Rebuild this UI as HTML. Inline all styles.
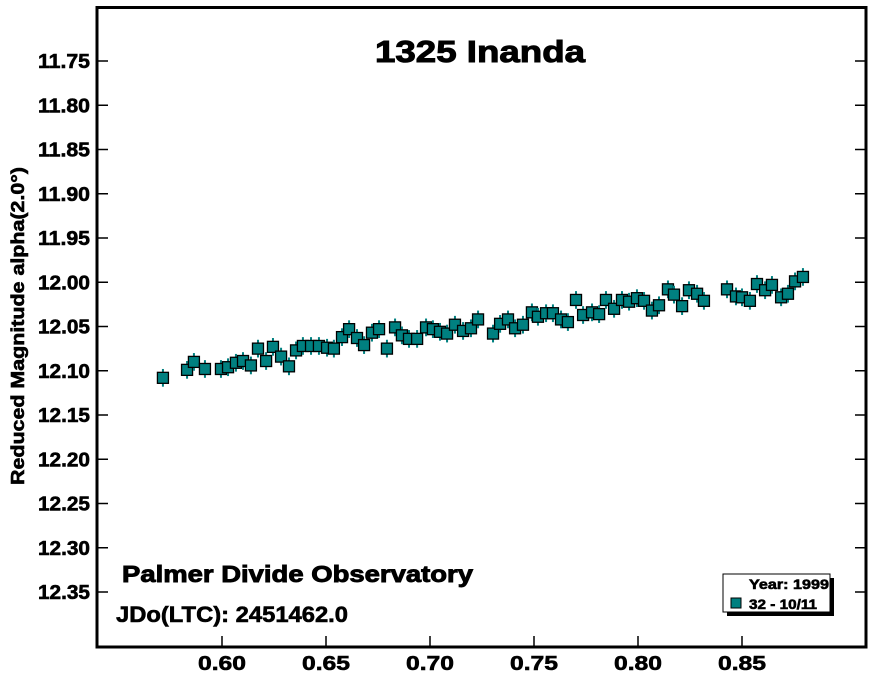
<!DOCTYPE html>
<html><head><meta charset="utf-8"><style>
body{margin:0;background:#fff}
svg text{font-family:"Liberation Sans",Arial,sans-serif;font-weight:bold;stroke:#000;stroke-width:0.6}
</style></head><body>
<svg id="chart" width="879" height="677" viewBox="0 0 879 677" xmlns="http://www.w3.org/2000/svg">
<rect x="0" y="0" width="879" height="677" fill="#fff"/>
<g id="axes"></g>
<g id="marks"></g>
<rect x="97" y="7.5" width="769" height="639.5" fill="none" stroke="#000" stroke-width="3"/>
<text x="375" y="62" font-size="31" textLength="210" lengthAdjust="spacingAndGlyphs" style="stroke-width:1">1325 Inanda</text>
<text x="122" y="582" font-size="23" textLength="351" lengthAdjust="spacingAndGlyphs" style="stroke-width:0.9">Palmer Divide Observatory</text>
<text x="116" y="622" font-size="22" textLength="232" lengthAdjust="spacingAndGlyphs">JDo(LTC): 2451462.0</text>
<text transform="translate(24,326) rotate(-90)" font-size="18" text-anchor="middle" textLength="318" lengthAdjust="spacingAndGlyphs">Reduced Magnitude alpha(2.0°)</text>
<g>
<rect x="727" y="578" width="107" height="38" fill="#000"/>
<rect x="723" y="574" width="107" height="38" fill="#fff" stroke="#000" stroke-width="1"/>
<text x="829" y="589" font-size="14" text-anchor="end" textLength="80" lengthAdjust="spacingAndGlyphs">Year: 1999</text>
<rect x="731" y="598" width="10" height="10" fill="#008080" stroke="#000" stroke-width="1"/>
<text x="749" y="609" font-size="14" textLength="68" lengthAdjust="spacingAndGlyphs">32 - 10/11</text>
</g>
</svg>
<script>
const xTicks=[0.60,0.65,0.70,0.75,0.80,0.85];
const yTicks=[11.75,11.80,11.85,11.90,11.95,12.00,12.05,12.10,12.15,12.20,12.25,12.30,12.35];
const phases=[0.5716,0.5832,0.5865,0.5918,0.5995,0.6029,0.6067,0.6101,0.6139,0.6173,0.6212,0.6245,0.6284,0.6322,0.6356,0.6389,0.6428,0.6466,0.6505,0.6538,0.6577,0.6611,0.6649,0.6683,0.6721,0.6755,0.6793,0.6832,0.6865,0.6899,0.6938,0.6981,0.7014,0.7048,0.7082,0.7120,0.7159,0.7197,0.7231,0.7303,0.7337,0.7375,0.7409,0.7447,0.7490,0.7519,0.7558,0.7591,0.7630,0.7663,0.7702,0.7736,0.7779,0.7813,0.7846,0.7885,0.7923,0.7957,0.7995,0.8029,0.8067,0.8101,0.8144,0.8173,0.8212,0.8245,0.8284,0.8317,0.8428,0.8471,0.8500,0.8538,0.8572,0.8611,0.8644,0.8688,0.8721,0.8755,0.8793];
const mags=[12.108,12.099,12.090,12.098,12.098,12.096,12.091,12.089,12.094,12.075,12.089,12.073,12.084,12.095,12.077,12.072,12.072,12.072,12.074,12.075,12.062,12.053,12.063,12.071,12.057,12.053,12.075,12.051,12.060,12.064,12.064,12.051,12.053,12.056,12.058,12.048,12.055,12.052,12.042,12.058,12.047,12.042,12.052,12.048,12.034,12.039,12.035,12.035,12.042,12.045,12.020,12.037,12.034,12.036,12.020,12.030,12.020,12.022,12.018,12.021,12.032,12.026,12.008,12.014,12.027,12.009,12.013,12.021,12.008,12.016,12.017,12.021,12.002,12.009,12.003,12.017,12.013,11.999,11.994];
const errs=new Array(mags.length).fill(0.010);
const NS="http://www.w3.org/2000/svg";
function xs(v){return 222+(v-0.60)*2080;}
function ys(v){return 61+(v-11.75)*885;}
function mk(tag,attrs,parent){const e=document.createElementNS(NS,tag);for(const k in attrs)e.setAttribute(k,attrs[k]);parent.appendChild(e);return e;}
const axes=document.getElementById('axes'),marks=document.getElementById('marks');
xTicks.forEach(t=>{
  const x=xs(t);
  const l=mk('line',{x1:x,x2:x,y1:646,y2:636,stroke:'#000','stroke-width':1.5},axes);
  
  
  const tx=mk('text',{x:x,y:670,'font-size':20,'text-anchor':'middle',textLength:48,lengthAdjust:'spacingAndGlyphs'},axes);
  tx.textContent=t.toFixed(2);
  
  
});
yTicks.forEach(t=>{
  const y=ys(t);
  const l=mk('line',{x1:97,x2:108,y1:y,y2:y,stroke:'#000','stroke-width':1.5},axes);
  
  
  const r=mk('line',{x1:866,x2:855,y1:y,y2:y,stroke:'#000','stroke-width':1.5},axes);
  
  
  const tx=mk('text',{x:38,y:y+7,'font-size':20,textLength:52,lengthAdjust:'spacingAndGlyphs'},axes);
  tx.textContent=t.toFixed(2);
  
  
});
phases.forEach((p,i)=>{
  const x=xs(p),y=ys(mags[i]);
  const g=mk('g',{},marks);
  
  
  mk('line',{x1:x,x2:x,y1:ys(mags[i]-errs[i]),y2:ys(mags[i]+errs[i]),stroke:'#008080','stroke-width':2},g);
  mk('rect',{x:x-5.5,y:y-5.5,width:11,height:11,fill:'#008080',stroke:'#000','stroke-width':1.3},g);
});
</script>
</body></html>
